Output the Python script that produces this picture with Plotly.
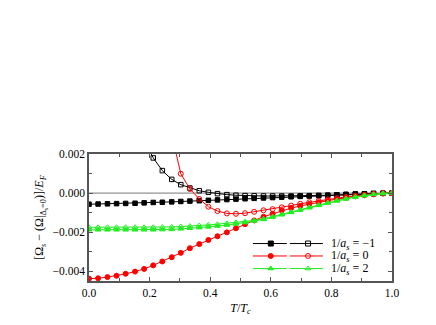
import plotly.graph_objects as go

T = [0.000, 0.030, 0.061, 0.091, 0.121, 0.152, 0.182, 0.212, 0.242, 0.273, 0.303, 0.333,
     0.364, 0.394, 0.424, 0.455, 0.485, 0.515, 0.545, 0.576, 0.606, 0.636, 0.667, 0.697,
     0.727, 0.758, 0.788, 0.818, 0.848, 0.879, 0.909, 0.939, 0.970, 1.000]

black_filled = [-0.00057, -0.00056, -0.00055, -0.00054, -0.00053, -0.00052, -0.00050, -0.00048,
                -0.00047, -0.00045, -0.00043, -0.00041, -0.00039, -0.00037, -0.00035, -0.00033,
                -0.00031, -0.00029, -0.00027, -0.00025, -0.00023, -0.00021, -0.00019, -0.00017,
                -0.00015, -0.00013, -0.00011, -0.00009, -0.00007, -0.00005, -0.00004, -0.00002,
                -0.00001, 0.00000]
black_open = [None, None, None, None, None, None, 0.0027, 0.0018, 0.00115, 0.00070, 0.00043, 0.00026,
              0.00012, 0.00004, -0.00003, -0.00008, -0.00011, -0.00013, -0.00014, -0.00015,
              -0.00015, -0.00015, -0.00015, -0.00014, -0.00013, -0.00012, -0.00011, -0.00009,
              -0.00007, -0.00005, -0.00004, -0.00002, -0.00001, 0.00000]
red_filled = [-0.00438, -0.00436, -0.00430, -0.00423, -0.00413, -0.00402, -0.00388, -0.00370,
              -0.00350, -0.00328, -0.00306, -0.00282, -0.00261, -0.00240, -0.00221, -0.00201,
              -0.00180, -0.00159, -0.00140, -0.00121, -0.00106, -0.00089, -0.00077, -0.00066,
              -0.00056, -0.00047, -0.00039, -0.00031, -0.00024, -0.00017, -0.00011, -0.00006,
              -0.00002, 0.00000]
red_open = [None, None, None, None, None, None, None, None, None, 0.0030, 0.00099, 0.00021,
            -0.00030, -0.00070, -0.00092, -0.00104, -0.00106, -0.00103, -0.00096, -0.00088,
            -0.00082, -0.00073, -0.00064, -0.00055, -0.00047, -0.00040, -0.00033, -0.00026,
            -0.00020, -0.00014, -0.00009, -0.00005, -0.00002, 0.00000]
green_filled = [-0.00188, -0.00188, -0.00188, -0.00188, -0.00188, -0.00188, -0.00188, -0.00188,
                -0.00187, -0.00186, -0.00183, -0.00180, -0.00177, -0.00173, -0.00169, -0.00164,
                -0.00158, -0.00151, -0.00143, -0.00135, -0.00123, -0.00111, -0.00099, -0.00087,
                -0.00075, -0.00063, -0.00051, -0.00040, -0.00030, -0.00021, -0.00013, -0.00007,
                -0.00002, 0.00000]
green_open = [-0.00175, -0.00175, -0.00175, -0.00175, -0.00175, -0.00175, -0.00175, -0.00175,
              -0.00174, -0.00173, -0.00171, -0.00169, -0.00166, -0.00163, -0.00159, -0.00155,
              -0.00150, -0.00146, -0.00140, -0.00132, -0.00121, -0.00109, -0.00097, -0.00085,
              -0.00073, -0.00061, -0.00049, -0.00038, -0.00028, -0.00019, -0.00012, -0.00006,
              -0.00002, 0.00000]

legend_labels = ["1/<i>a<sub>s</sub></i> = −1", "1/<i>a<sub>s</sub></i> = 0", "1/<i>a<sub>s</sub></i> = 2"]

BLACK = "#000000"
RED = "#ff0000"
GREEN = "#22ee22"
FONT = "Liberation Serif"

fig = go.Figure()

series = [
    (black_filled, BLACK, "square", 4.5), (black_open, BLACK, "square-open", 4.5),
    (red_filled, RED, "circle", 5), (red_open, RED, "circle-open", 5),
    (green_filled, GREEN, "triangle-up", 5), (green_open, GREEN, "triangle-up-open", 5),
]
for ys, col, sym, sz in series:
    fig.add_trace(go.Scatter(x=T, y=ys, mode="lines+markers",
                             line=dict(color=col, width=1),
                             marker=dict(symbol=sym, size=sz, color=col, line=dict(color=col, width=1)),
                             showlegend=False, connectgaps=False))

# zero reference line
fig.add_shape(type="line", xref="paper", yref="y", x0=0, x1=1, y0=0, y1=0,
              line=dict(color="#777777", width=1), layer="below")

# custom legend (two markers per entry) on an overlay axis
leg_colors = [BLACK, RED, GREEN]
leg_syms = [("square", "square-open"), ("circle", "circle-open"), ("triangle-up", "triangle-up-open")]
leg_y = [0.295, 0.197, 0.098]
for lab, col, (s1, s2), yy in zip(legend_labels, leg_colors, leg_syms, leg_y):
    fig.add_trace(go.Scatter(x=[0.541, 0.653], y=[yy, yy], xaxis="x2", yaxis="y2", mode="lines",
                             line=dict(color=col, width=1), showlegend=False, hoverinfo="skip"))
    fig.add_trace(go.Scatter(x=[0.663, 0.772], y=[yy, yy], xaxis="x2", yaxis="y2", mode="lines",
                             line=dict(color=col, width=1), showlegend=False, hoverinfo="skip"))
    fig.add_trace(go.Scatter(x=[0.60], y=[yy], xaxis="x2", yaxis="y2", mode="markers",
                             marker=dict(symbol=s1, size=5, color=col, line=dict(color=col, width=1)),
                             showlegend=False, hoverinfo="skip"))
    fig.add_trace(go.Scatter(x=[0.723], y=[yy], xaxis="x2", yaxis="y2", mode="markers",
                             marker=dict(symbol=s2, size=5, color=col, line=dict(color=col, width=1)),
                             showlegend=False, hoverinfo="skip"))
    fig.add_annotation(x=0.793, y=yy, xref="x2", yref="y2", text=lab, showarrow=False,
                       xanchor="left", yanchor="middle", font=dict(family=FONT, size=12, color="#000"))

axis_common = dict(showgrid=False, zeroline=False, showline=True, linecolor="#555555", linewidth=1.5,
                   mirror="ticks", ticks="inside", ticklen=4, tickcolor="#555555", tickwidth=1,
                   tickfont=dict(family=FONT, size=11.5, color="#000"))

fig.update_layout(
    width=428, height=317,
    margin=dict(l=81, r=44, t=146, b=39),
    paper_bgcolor="white", plot_bgcolor="white",
    xaxis=dict(range=[0, 1], dtick=0.2, tickformat=".1f",
               minor=dict(dtick=0.1, ticks="inside", ticklen=3, tickcolor="#555555"),
               title=dict(text="<i>T</i>/<i>T<sub>c</sub></i>", font=dict(family=FONT, size=12, color="#000"),
                          standoff=6),
               **axis_common),
    yaxis=dict(range=[-0.0045, 0.002], dtick=0.002, tickformat=".3f",
               minor=dict(dtick=0.001, ticks="inside", ticklen=3, tickcolor="#555555"),
               title=dict(text="[Ω<sub><i>s</i></sub> − (Ω|<sub>Δ<sub>s</sub>=0</sub>)]/<i>E<sub>F</sub></i>",
                          font=dict(family=FONT, size=12, color="#000"), standoff=6),
               **axis_common),
    xaxis2=dict(range=[0, 1], overlaying="x", visible=False, fixedrange=True),
    yaxis2=dict(range=[0, 1], overlaying="y", visible=False, fixedrange=True),
)

fig.write_html("out.html")
